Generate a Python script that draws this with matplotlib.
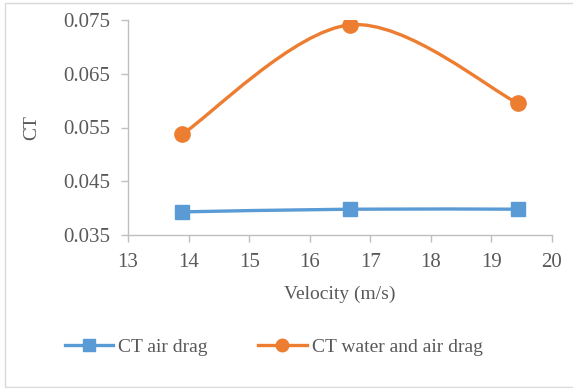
import numpy as np
import matplotlib
matplotlib.use("Agg")
import matplotlib.pyplot as plt
from matplotlib.path import Path
from matplotlib.patches import PathPatch, Rectangle
from matplotlib.lines import Line2D

# velocities (m/s) and thrust coefficient values
velocity = [13.89, 16.67, 19.44]
ct_air = [0.0393, 0.0398, 0.0398]
ct_water_air = [0.0537, 0.0741, 0.0595]

BLUE = "#5B9BD5"
ORANGE = "#ED7D31"
GREY = "#BFBFBF"
TEXT = "#595959"

plt.rcParams["font.family"] = ["Liberation Serif", "DejaVu Serif"]


def smooth_path(xs, ys):
    """Cardinal-spline style smoothing built from cubic Bezier segments."""
    pts = np.column_stack([xs, ys]).astype(float)
    n = len(pts)
    verts = [pts[0]]
    codes = [Path.MOVETO]
    for i in range(n - 1):
        p_prev = pts[i - 1] if i > 0 else pts[i]
        p_next2 = pts[i + 2] if i + 2 < n else pts[i + 1]
        c1 = pts[i] + (pts[i + 1] - p_prev) / 6.0
        c2 = pts[i + 1] - (p_next2 - pts[i]) / 6.0
        verts += [c1, c2, pts[i + 1]]
        codes += [Path.CURVE4] * 3
    return Path(verts, codes)


fig = plt.figure(figsize=(5.73, 3.88), dpi=100)
ax = fig.add_axes([128 / 573, 1 - 235 / 388, (552 - 128) / 573, (235 - 20) / 388])

# outer chart frame (right edge runs off the image)
fig.patches.append(Rectangle((5 / 573, 1.5 / 388), 600 / 573, 384 / 388,
                             transform=fig.transFigure, fill=False,
                             edgecolor="#D9D9D9", linewidth=1.0))

for ys, color, marker, label in [(ct_air, BLUE, "s", "CT air drag"),
                                 (ct_water_air, ORANGE, "o", "CT water and air drag")]:
    ax.add_patch(PathPatch(smooth_path(velocity, ys), fill=False,
                           edgecolor=color, linewidth=2.4, capstyle="round", zorder=2))
    ax.plot(velocity, ys, linestyle="none", marker=marker, color=color,
            markersize=10.5 if marker == "s" else 11, zorder=3, label=label)

ax.set_xlim(13, 20)
ax.set_ylim(0.035, 0.075)
ax.set_xticks(range(13, 21))
ax.set_yticks([0.035, 0.045, 0.055, 0.065, 0.075])
ax.set_yticklabels(["0.035", "0.045", "0.055", "0.065", "0.075"])

for side in ["top", "right"]:
    ax.spines[side].set_visible(False)
for side in ["left", "bottom"]:
    ax.spines[side].set_color(GREY)
    ax.spines[side].set_linewidth(1.0)
ax.tick_params(axis="both", colors=GREY, labelcolor=TEXT, labelsize=15,
               length=5, width=1.0, direction="out")
ax.tick_params(axis="x", pad=8)
ax.tick_params(axis="y", pad=8)

ax.set_xlabel("Velocity (m/s)", fontsize=14, color=TEXT, labelpad=10)
ax.set_ylabel("CT", fontsize=14, color=TEXT, labelpad=16)

handles = [Line2D([], [], color=BLUE, linewidth=2.4, marker="s", markersize=8),
           Line2D([], [], color=ORANGE, linewidth=2.4, marker="o", markersize=9)]
fig.legend(handles, ["CT air drag", "CT water and air drag"], loc="center",
           bbox_to_anchor=(273.5 / 573, 1 - 347 / 388), ncol=2, frameon=False,
           fontsize=14, labelcolor=TEXT, handlelength=2.5, handletextpad=0.25,
           columnspacing=2.6)

fig.savefig("out.png", dpi=100)
